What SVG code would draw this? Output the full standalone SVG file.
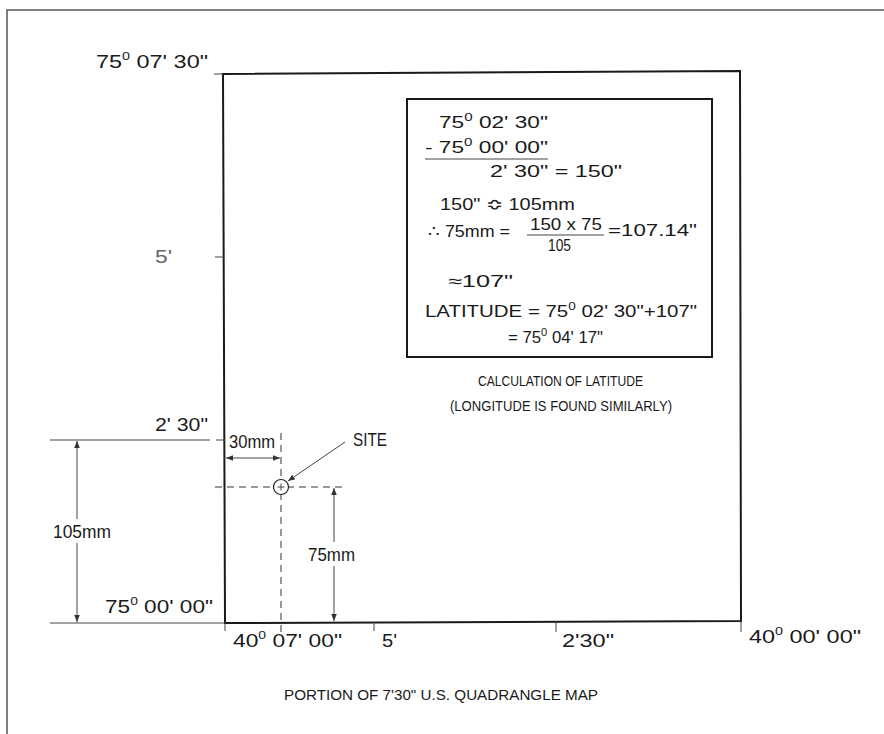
<svg xmlns="http://www.w3.org/2000/svg" width="884" height="734" viewBox="0 0 884 734">
<defs>
<marker id="ah" viewBox="0 0 10 10" refX="10" refY="5" markerWidth="7" markerHeight="7" markerUnits="userSpaceOnUse" orient="auto-start-reverse">
<path d="M0,1 L10,5 L0,9 Z" fill="#333"/>
</marker>
</defs>
<style>
text{font-family:"Liberation Sans",Arial,sans-serif;fill:#1a1a1a;}
.lbl{font-size:18px;}
.calc{font-size:16.5px;}
.cap{font-size:15px;}
.sup{font-size:11px;}
.frame{fill:none;stroke:#555;stroke-width:1.5;}
.map{fill:none;stroke:#1a1a1a;stroke-width:2;}
.thin{fill:none;stroke:#444;stroke-width:1;}
.dash{fill:none;stroke:#333;stroke-width:1;stroke-dasharray:7,5;}
.arr{fill:none;stroke:#444;stroke-width:1;marker-end:url(#ah);}
.dim{fill:none;stroke:#444;stroke-width:1;marker-start:url(#ah);marker-end:url(#ah);}
</style>
<rect width="884" height="734" fill="#fff"/>
<g id="frame">
<path class="frame" d="M7,734 L7,10 L884,10"/>
</g>
<g id="map">
<path class="map" d="M223,74 L740,71 L741,621 L225,623 Z"/>
</g>
<g id="connectors">
<line class="thin" x1="214" y1="74" x2="223" y2="74"/>
<line class="thin" x1="215" y1="257" x2="224" y2="257"/>
<line class="thin" x1="50" y1="440" x2="210" y2="440"/>
<line class="thin" x1="216" y1="440" x2="225" y2="440"/>
<line class="thin" x1="50" y1="623" x2="225" y2="623"/>
<line class="thin" x1="225" y1="623" x2="225" y2="631"/>
<line class="thin" x1="374" y1="622" x2="374" y2="631"/>
<line class="thin" x1="556" y1="622" x2="556" y2="632"/>
<line class="thin" x1="741" y1="621" x2="741" y2="632"/>
<line class="dash" x1="281" y1="433" x2="281" y2="633"/>
<line class="dash" x1="215" y1="487" x2="347" y2="487"/>
<line class="arr" x1="77" y1="519" x2="77" y2="441"/>
<line class="arr" x1="77" y1="543" x2="77" y2="622"/>
<line class="dim" x1="226" y1="458" x2="280" y2="458"/>
<line class="arr" x1="334" y1="542" x2="334" y2="488"/>
<line class="arr" x1="334" y1="566" x2="334" y2="621"/>
<line class="arr" x1="345" y1="442" x2="288" y2="481"/>
</g>
<g id="site">
<circle cx="281" cy="487" r="7.5" fill="#fff" stroke="#222" stroke-width="1.2"/>
<line class="thin" x1="277.5" y1="487" x2="284.5" y2="487"/>
<line class="thin" x1="281" y1="483.5" x2="281" y2="490.5"/>
<text class="lbl" x="353" y="446" textLength="34" lengthAdjust="spacingAndGlyphs">SITE</text>
</g>
<g id="labels">
<text class="lbl" x="96" y="68" textLength="112" lengthAdjust="spacingAndGlyphs">75<tspan class="sup" dy="-8">0</tspan><tspan dy="8"> 07' 30"</tspan></text>
<text class="lbl" x="155" y="263" style="fill:#666" textLength="17" lengthAdjust="spacingAndGlyphs">5'</text>
<text class="lbl" x="155" y="431" textLength="53" lengthAdjust="spacingAndGlyphs">2' 30"</text>
<text class="lbl" x="229" y="448" textLength="46" lengthAdjust="spacingAndGlyphs">30mm</text>
<text class="lbl" x="53" y="538" textLength="58" lengthAdjust="spacingAndGlyphs">105mm</text>
<text class="lbl" x="308" y="561" textLength="47" lengthAdjust="spacingAndGlyphs">75mm</text>
<text class="lbl" x="105" y="613" textLength="108" lengthAdjust="spacingAndGlyphs">75<tspan class="sup" dy="-8">0</tspan><tspan dy="8"> 00' 00"</tspan></text>
<text class="lbl" x="233" y="647" textLength="109" lengthAdjust="spacingAndGlyphs">40<tspan class="sup" dy="-8">0</tspan><tspan dy="8"> 07' 00"</tspan></text>
<text class="lbl" x="382" y="647" textLength="15" lengthAdjust="spacingAndGlyphs">5'</text>
<text class="lbl" x="562" y="647" textLength="52" lengthAdjust="spacingAndGlyphs">2'30"</text>
<text class="lbl" x="749" y="643" textLength="112" lengthAdjust="spacingAndGlyphs">40<tspan class="sup" dy="-8">0</tspan><tspan dy="8"> 00' 00"</tspan></text>
<text class="cap" x="284" y="700" textLength="314" lengthAdjust="spacingAndGlyphs">PORTION OF 7'30" U.S.  QUADRANGLE MAP</text>
</g>
<g id="calculation">
<rect x="407" y="99" width="305" height="258" fill="none" stroke="#1a1a1a" stroke-width="2"/>
<text class="calc" x="439" y="128" textLength="109" lengthAdjust="spacingAndGlyphs">75<tspan class="sup" dy="-7">0</tspan><tspan dy="7"> 02' 30"</tspan></text>
<text class="calc" x="425" y="153" textLength="123" lengthAdjust="spacingAndGlyphs">- 75<tspan class="sup" dy="-7">0</tspan><tspan dy="7"> 00' 00"</tspan></text>
<line class="thin" x1="425" y1="159" x2="548" y2="159"/>
<text class="calc" x="490" y="177" textLength="132" lengthAdjust="spacingAndGlyphs">2' 30" = 150"</text>
<text class="calc" x="440" y="210" textLength="135" lengthAdjust="spacingAndGlyphs">150" ≎ 105mm</text>
<text class="calc" x="428" y="237" textLength="82" lengthAdjust="spacingAndGlyphs">∴ 75mm =</text>
<text class="calc" x="530" y="230" textLength="72" lengthAdjust="spacingAndGlyphs">150 x 75</text>
<line class="thin" x1="527" y1="235" x2="604" y2="235"/>
<text class="calc" x="548" y="251" textLength="23" lengthAdjust="spacingAndGlyphs">105</text>
<text class="calc" x="608" y="236" textLength="89" lengthAdjust="spacingAndGlyphs">=107.14"</text>
<text class="calc" x="448" y="287" textLength="65" lengthAdjust="spacingAndGlyphs">≈107"</text>
<text class="calc" x="425" y="317" textLength="272" lengthAdjust="spacingAndGlyphs">LATITUDE = 75<tspan class="sup" dy="-7">0</tspan><tspan dy="7"> 02' 30"+107"</tspan></text>
<text class="calc" x="508" y="343" textLength="95" lengthAdjust="spacingAndGlyphs">= 75<tspan class="sup" dy="-7">0</tspan><tspan dy="7"> 04' 17"</tspan></text>
<text class="cap" x="478" y="386" textLength="165" lengthAdjust="spacingAndGlyphs">CALCULATION OF LATITUDE</text>
<text class="cap" x="450" y="411" textLength="222" lengthAdjust="spacingAndGlyphs">(LONGITUDE IS FOUND SIMILARLY)</text>
</g>
</svg>
